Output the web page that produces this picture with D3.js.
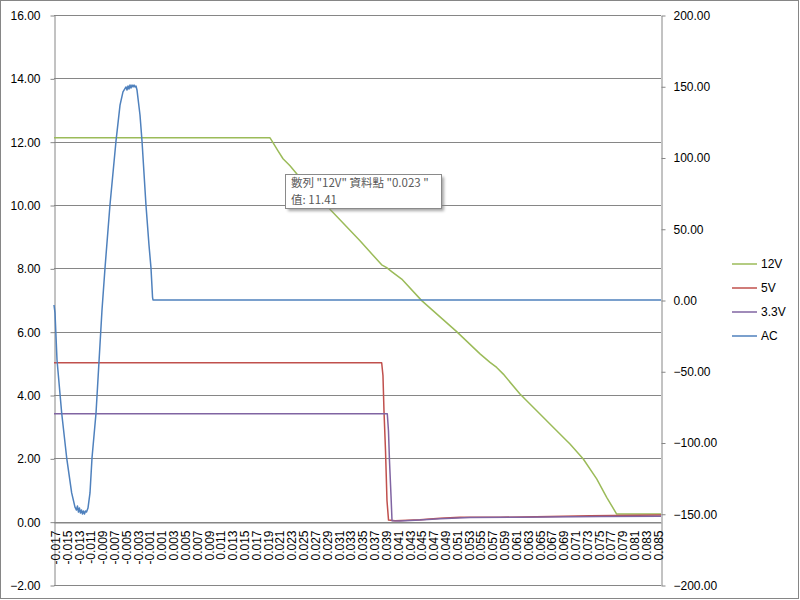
<!DOCTYPE html>
<html>
<head>
<meta charset="utf-8">
<script src="https://cdn.jsdelivr.net/npm/d3@7"></script>
<style>
  html, body { margin: 0; padding: 0; background: #fff; }
  svg text { font-family: "Liberation Sans", Arial, sans-serif; }
</style>
</head>
<body>
<svg id="chart" width="800" height="600"></svg>
<script>
// ---------- DATA ----------
const seriesNames = ["12V", "5V", "3.3V", "AC"];
const seriesColors = ["#9BBB59", "#C0504D", "#8064A2", "#4F81BD"];

const xTickLabels = ["-0.017","-0.015","-0.013","-0.011","-0.009","-0.007","-0.005","-0.003","-0.001",
  "0.001","0.003","0.005","0.007","0.009","0.011","0.013","0.015","0.017","0.019","0.021","0.023",
  "0.025","0.027","0.029","0.031","0.033","0.035","0.037","0.039","0.041","0.043","0.045","0.047",
  "0.049","0.051","0.053","0.055","0.057","0.059","0.061","0.063","0.065","0.067","0.069","0.071",
  "0.073","0.075","0.077","0.079","0.081","0.083","0.085"];
const leftTicks = [-2, 0, 2, 4, 6, 8, 10, 12, 14, 16];
const rightTicks = [-200, -150, -100, -50, 0, 50, 100, 150, 200];

// 12V (primary axis)
const v12Time  = [-0.0172, 0.01935, 0.01985, 0.02070, 0.02155, 0.02273, 0.02442, 0.03001, 0.03457, 0.03824,
  0.03909, 0.03999, 0.04163, 0.04501, 0.05093, 0.05488, 0.05657, 0.05770, 0.05882, 0.06164, 0.06447,
  0.06785, 0.07010, 0.07235, 0.07462, 0.07631, 0.07800, 0.0855];
const v12Value = [12.12, 12.12, 11.97, 11.71, 11.46, 11.24, 10.86, 9.76, 8.87, 8.11,
  8.02, 7.89, 7.66, 6.98, 6.00, 5.30, 5.03, 4.87, 4.66, 4.03, 3.50,
  2.87, 2.45, 1.98, 1.35, 0.77, 0.24, 0.24];

// 5V (primary axis)
const v5Time  = [-0.0172, 0.03824, 0.03846, 0.03863, 0.03889, 0.03914, 0.03940, 0.04050, 0.04473, 0.04811,
  0.05149, 0.05826, 0.06672, 0.07349, 0.0855];
const v5Value = [5.02, 5.02, 4.61, 3.50, 2.24, 0.66, 0.05, 0.03, 0.06, 0.11,
  0.14, 0.14, 0.16, 0.19, 0.21];

// 3.3V (primary axis)
const v33Time  = [-0.0172, 0.03919, 0.03939, 0.03956, 0.03982, 0.03999, 0.04134, 0.04473, 0.04811, 0.05318,
  0.06164, 0.07518, 0.0855];
const v33Value = [3.41, 3.41, 2.87, 1.93, 0.82, 0.03, 0.02, 0.05, 0.09, 0.13,
  0.14, 0.16, 0.17];

// AC (secondary axis)
const acTime  = [-0.0172, -0.01703, -0.01669, -0.01590, -0.01505, -0.01421, -0.01365, -0.0134, -0.01323, -0.01306,
  -0.01289, -0.01272, -0.01255, -0.01238, -0.01221, -0.01204, -0.01187, -0.0117, -0.01145, -0.01111,
  -0.01077, -0.01009, -0.00959, -0.00908, -0.00857, -0.00773, -0.00671, -0.00603, -0.00553, -0.00502,
  -0.00485, -0.00468, -0.00451, -0.00434, -0.00417, -0.00400, -0.00383, -0.00366, -0.00350, -0.00333,
  -0.00316, -0.00265, -0.00231, -0.00164, -0.00113, -0.00079, -0.00053, -0.00045, 0.0855];
const acValue = [-3.5, -9.1, -42.1, -79.3, -110.9, -135.4, -145.3, -147.4, -144.6, -148.8,
  -146.0, -149.5, -147.4, -150.2, -148.1, -150.2, -148.1, -148.8, -146.0, -135.4,
  -110.9, -79.3, -43.5, -7.0, 22.5, 66.7, 111.6, 136.8, 146.0, 149.5,
  147.4, 150.2, 148.1, 150.9, 148.8, 150.9, 149.5, 150.9, 149.5, 150.2,
  147.4, 129.8, 111.6, 66.7, 38.6, 22.5, 2.1, 0, 0];

const tipSeries = "12V", tipCategory = "0.023 ", tipTime = 0.023, tipValue = 11.41;

// ---------- LAYOUT ----------
const svg = d3.select("#chart");
const plot = { left: 54, right: 661, top: 15, bottom: 585 };
const gridColor = "#868686";

const x = d3.scaleLinear().domain([-0.0172, 0.0855]).range([plot.left, plot.right]);
const yL = d3.scaleLinear().domain([-2, 16]).range([plot.bottom, plot.top]);
const yR = d3.scaleLinear().domain([-200, 200]).range([plot.bottom, plot.top]);

// outer border
svg.append("rect").attr("x", 0.5).attr("y", 0.5).attr("width", 798).attr("height", 598)
  .attr("fill", "#fff").attr("stroke", gridColor).attr("stroke-width", 1);

// gridlines
svg.append("g").selectAll("line").data(leftTicks).join("line")
  .attr("x1", plot.left).attr("x2", plot.right)
  .attr("y1", d => Math.round(yL(d)) + 0.5).attr("y2", d => Math.round(yL(d)) + 0.5)
  .attr("stroke", gridColor).attr("stroke-width", 1);

// left axis
const gL = svg.append("g").attr("transform", `translate(${plot.left + 0.5},0.5)`)
  .call(d3.axisLeft(yL).tickValues(leftTicks).tickFormat(d3.format(".2f")).tickSize(4).tickSizeOuter(0).tickPadding(10));
// right axis
const gR = svg.append("g").attr("transform", `translate(${plot.right + 0.5},0.5)`)
  .call(d3.axisRight(yR).tickValues(rightTicks).tickFormat(d3.format(".2f")).tickSize(4).tickSizeOuter(0).tickPadding(8));
// bottom (category) axis at value 0
const gX = svg.append("g").attr("transform", `translate(0,${Math.round(yL(0)) + 0.5})`)
  .call(d3.axisBottom(x).tickValues(xTickLabels.map(Number)).tickFormat((d, i) => xTickLabels[i]).tickSize(0).tickSizeOuter(0));
gX.selectAll("text")
  .attr("transform", "rotate(-90)")
  .attr("text-anchor", "end")
  .attr("x", -8).attr("y", 0).attr("dy", "0.35em");

[gL, gR, gX].forEach(g => {
  g.selectAll("path.domain").attr("stroke", gridColor);
  g.selectAll(".tick line").attr("stroke", gridColor);
  g.selectAll("text").attr("fill", "#000").style("font-size", "12px")
    .style("font-family", '"Liberation Sans", Arial, sans-serif');
});

// ---------- SERIES ----------
const series = [
  { name: "12V", t: v12Time, v: v12Value, y: yL },
  { name: "5V", t: v5Time, v: v5Value, y: yL },
  { name: "3.3V", t: v33Time, v: v33Value, y: yL },
  { name: "AC", t: acTime, v: acValue, y: yR }
];
series.forEach((s, i) => {
  const pts = s.t.map((t, k) => [t, s.v[k]]);
  const line = d3.line().x(d => x(d[0])).y(d => s.y(d[1]));
  svg.append("path").datum(pts).attr("d", line)
    .attr("fill", "none").attr("stroke", seriesColors[i])
    .attr("stroke-width", 1.5).attr("stroke-linejoin", "round");
});

// ---------- LEGEND ----------
const legend = svg.append("g");
const legendY = d3.scalePoint().domain(seriesNames).range([264, 336]);
seriesNames.forEach((n, i) => {
  const yy = legendY(n);
  legend.append("line").attr("x1", 732).attr("x2", 757).attr("y1", yy).attr("y2", yy)
    .attr("stroke", seriesColors[i]).attr("stroke-width", 1.5);
  legend.append("text").attr("x", 761).attr("y", yy).attr("dy", "0.35em")
    .style("font-size", "12px").attr("fill", "#000").text(n);
});

// ---------- TOOLTIP ----------
const defs = svg.append("defs");
const f = defs.append("filter").attr("id", "sh").attr("x", "-10%").attr("y", "-20%").attr("width", "130%").attr("height", "160%");
f.append("feGaussianBlur").attr("stdDeviation", 1.5);
const tx = x(tipTime) - 7, ty = yL(tipValue) + 14;
const tip = svg.append("g").attr("transform", `translate(${Math.round(tx)},${Math.round(ty)})`);
tip.append("rect").attr("x", 3).attr("y", 3).attr("width", 156).attr("height", 34)
  .attr("fill", "#808080").attr("opacity", 0.7).attr("filter", "url(#sh)");
tip.append("rect").attr("x", 0.5).attr("y", 0.5).attr("width", 156).attr("height", 34)
  .attr("fill", "#fff").attr("stroke", "#8a8a8a");
tip.append("text").attr("x", 6).attr("y", 9).attr("dy", "0.35em")
  .style("font-family", '"Noto Sans CJK TC", "Noto Sans", sans-serif').style("font-size", "11.5px")
  .attr("fill", "#595959").text(`數列 "${tipSeries}" 資料點 "${tipCategory}"`);
tip.append("text").attr("x", 6).attr("y", 26).attr("dy", "0.35em")
  .style("font-family", '"Noto Sans CJK TC", "Noto Sans", sans-serif').style("font-size", "11.5px")
  .attr("fill", "#595959").text(`值: ${tipValue}`);
</script>
</body>
</html>
